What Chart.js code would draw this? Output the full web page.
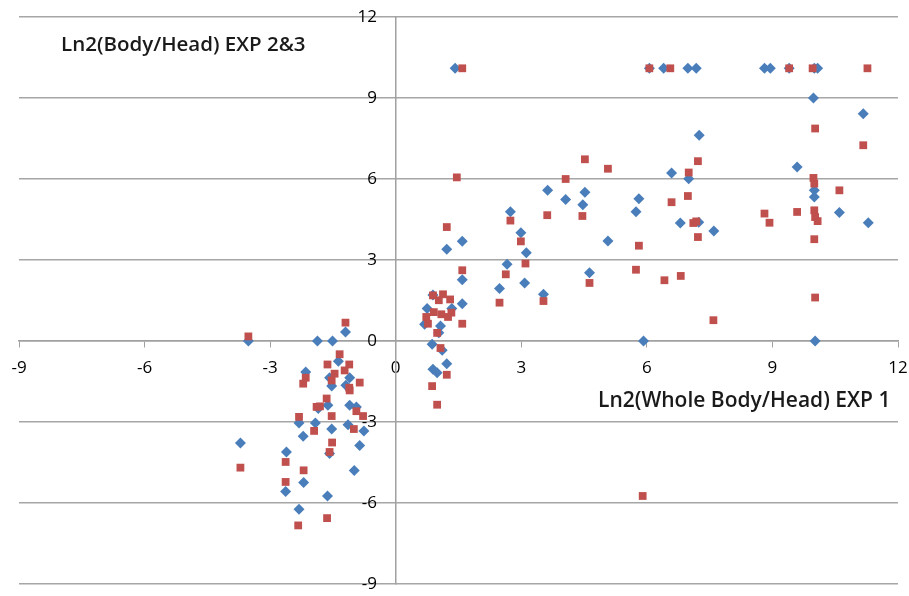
<!DOCTYPE html>
<html>
<head>
<meta charset="utf-8">
<script src="https://cdn.jsdelivr.net/npm/chart.js@4.4.1/dist/chart.umd.min.js"></script>
<style>
  html, body { margin: 0; padding: 0; background: #fff; }
  #wrap { width: 909px; height: 596px; }
</style>
</head>
<body>
<div id="wrap"><canvas id="chart"></canvas></div>
<script>
// Ln2(Whole Body/Head) EXP 1 vs Ln2(Body/Head) EXP 2&3
const blueX = [
  -3.52, -1.87, -1.51, -1.20, -1.37, -2.15, -1.58, -1.10, -1.53, -1.19,
  -1.62, -1.85, -1.10, -0.94, -2.31, -1.92, -2.21, -1.53, -1.14, -0.76,
  -0.86, -3.71, -2.61, -1.58, -2.20, -0.99, -2.63, -1.63, -2.31,
  1.22, 1.59, 1.59, 0.89, 0.75, 1.34, 1.59, 0.69, 1.07, 1.03,
  0.87, 1.11, 1.22, 0.89, 0.99,
  2.48, 2.66, 2.74, 2.99, 3.12, 3.08, 3.53, 3.63, 4.06, 4.52,
  4.47, 4.63, 5.07, 5.81, 5.74, 5.92, 6.59, 7.00, 6.80, 7.24,
  7.60, 7.25,
  9.98, 11.17, 9.59, 10.00, 10.00, 10.60, 11.29, 10.02,
  1.42, 6.06, 6.40, 6.98, 7.18, 8.81, 8.95, 9.40, 10.00, 10.08
];
const blueY = [
  0, 0, 0, 0.33, -0.75, -1.15, -1.36, -1.36, -1.67, -1.64,
  -2.38, -2.50, -2.38, -2.44, -3.04, -3.04, -3.53, -3.26, -3.10, -3.33,
  -3.87, -3.78, -4.11, -4.17, -5.24, -4.80, -5.57, -5.74, -6.23,
  3.40, 3.69, 2.27, 1.70, 1.20, 1.20, 1.38, 0.62, 0.56, 0.31,
  -0.12, -0.34, -0.84, -1.05, -1.18,
  1.94, 2.84, 4.79, 4.01, 3.27, 2.15, 1.73, 5.58, 5.24, 5.51,
  5.05, 2.53, 3.70, 5.27, 4.79, 0, 6.22, 6.01, 4.37, 4.40,
  4.07, 7.62,
  9.00, 8.42, 6.44, 5.58, 5.33, 4.76, 4.38, 0,
  10.1, 10.1, 10.1, 10.1, 10.1, 10.1, 10.1, 10.1, 10.1, 10.1
];
const redX = [
  -3.52, -1.20, -1.34, -1.63, -1.11, -1.46, -1.22, -1.53, -2.15, -2.21,
  -0.86, -1.11, -1.10, -1.65, -1.89, -1.81, -2.31, -1.53, -0.94, -0.78,
  -1.95, -1.00, -1.52, -1.58, -2.63, -3.71, -2.20, -2.63, -1.64, -2.33,
  1.46, 1.22, 1.59, 0.89, 1.13, 1.03, 1.30, 0.91, 1.09, 1.33,
  1.25, 0.73, 0.77, 1.59, 0.99, 1.07, 1.22, 0.87, 0.99,
  2.74, 2.63, 2.48, 2.99, 3.10, 3.53, 3.62, 4.06, 4.52, 5.07,
  4.46, 4.63, 5.74, 5.81, 6.42, 6.81, 6.59, 6.98, 7.00, 7.22,
  7.11, 7.18, 7.22, 7.59, 5.90,
  10.02, 11.17, 9.98, 10.00, 10.60, 8.81, 8.93, 9.59, 10.00, 10.02,
  10.08, 10.00, 10.02,
  1.59, 6.06, 6.56, 9.40, 9.96, 11.27
];
const redY = [
  0.17, 0.68, -0.49, -0.87, -0.87, -1.21, -1.09, -1.46, -1.36, -1.58,
  -1.54, -1.73, -1.83, -2.13, -2.44, -2.42, -2.81, -2.78, -2.60, -2.78,
  -3.33, -3.26, -3.76, -4.11, -4.48, -4.69, -4.79, -5.22, -6.56, -6.83,
  6.06, 4.22, 2.62, 1.69, 1.73, 1.51, 1.54, 1.07, 0.99, 1.05,
  0.89, 0.89, 0.64, 0.64, 0.30, -0.26, -1.25, -1.67, -2.36,
  4.46, 2.47, 1.42, 3.69, 2.87, 1.48, 4.66, 6.00, 6.73, 6.38,
  4.63, 2.15, 2.64, 3.53, 2.25, 2.41, 5.14, 5.37, 6.24, 6.66,
  4.37, 4.43, 3.85, 0.77, -5.74,
  7.87, 7.25, 6.04, 5.83, 5.58, 4.72, 4.38, 4.78, 4.84, 4.59,
  4.44, 3.77, 1.61,
  10.1, 10.1, 10.1, 10.1, 10.1, 10.1
];
const axisMin = -9;
const axisMax = 12;
const axisStep = 3;
const xTitle = 'Ln2(Whole Body/Head) EXP 1';
const yTitle = 'Ln2(Body/Head) EXP 2&3';

function toPoints(xs, ys) {
    return xs.map((x, i) => ({ x: x, y: ys[i] }));
}

const FONT = '"Open Sans", "Liberation Sans", sans-serif';

// centred axes should not push the plot area in; layout padding handles it
function noEdgePadding(scale) {
    scale.paddingTop = 0;
    scale.paddingBottom = 0;
    scale.paddingLeft = 0;
    scale.paddingRight = 0;
}

// axis titles sit inside the plot, like the original
const titlePlugin = {
    id: 'axisTitles',
    afterDraw(chart) {
        const ctx = chart.ctx;
        ctx.save();
        ctx.fillStyle = '#1a1a1a';
        ctx.textBaseline = 'middle';
        ctx.textAlign = 'left';
        ctx.font = '600 20.5px ' + FONT;
        ctx.fillText(yTitle, 61, 45);
        ctx.font = '600 21px ' + FONT;
        ctx.fillText(xTitle, 598, 401);
        ctx.restore();
    }
};

new Chart(document.getElementById('chart'), {
    type: 'scatter',
    data: {
        datasets: [{
            label: 'EXP 2',
            data: toPoints(blueX, blueY),
            pointStyle: 'rectRot',
            pointRadius: 5.5,
            pointHoverRadius: 5.5,
            backgroundColor: '#4a7ebb',
            borderColor: '#4a7ebb',
            borderWidth: 0,
            order: 1
        }, {
            label: 'EXP 3',
            data: toPoints(redX, redY),
            pointStyle: 'rect',
            pointRadius: 5.5,
            pointHoverRadius: 5.5,
            backgroundColor: '#c0504d',
            borderColor: '#c0504d',
            borderWidth: 0,
            order: 0
        }]
    },
    options: {
        responsive: true,
        maintainAspectRatio: false,
        animation: false,
        layout: { padding: { left: 19, right: 11, top: 17, bottom: 12 } },
        plugins: {
            legend: { display: false },
            tooltip: { enabled: false }
        },
        scales: {
            x: {
                type: 'linear',
                position: { y: 0 },
                min: axisMin,
                max: axisMax,
                afterFit: noEdgePadding,
                ticks: {
                    stepSize: axisStep,
                    color: '#000',
                    font: { family: FONT, size: 17 },
                    padding: 11
                },
                grid: {
                    drawOnChartArea: false,
                    drawTicks: true,
                    tickLength: 6,
                    color: '#a0a0a0'
                },
                border: { display: true, color: '#a0a0a0', width: 1.5 }
            },
            y: {
                type: 'linear',
                position: { x: 0 },
                min: axisMin,
                max: axisMax,
                afterFit: noEdgePadding,
                ticks: { display: false, stepSize: axisStep },
                grid: {
                    drawOnChartArea: true,
                    drawTicks: false,
                    color: '#a6a6a6',
                    lineWidth: 1.5
                },
                border: { display: true, color: '#a0a0a0', width: 1.5 }
            },
            // label-only copy of the y axis, set a little left of x = 0
            yLabels: {
                type: 'linear',
                axis: 'y',
                position: { x: -0.45 },
                min: axisMin,
                max: axisMax,
                afterFit: noEdgePadding,
                ticks: {
                    stepSize: axisStep,
                    color: '#000',
                    font: { family: FONT, size: 17 }
                },
                grid: { display: false, drawTicks: false },
                border: { display: false }
            }
        }
    },
    plugins: [titlePlugin]
});
</script>
</body>
</html>
